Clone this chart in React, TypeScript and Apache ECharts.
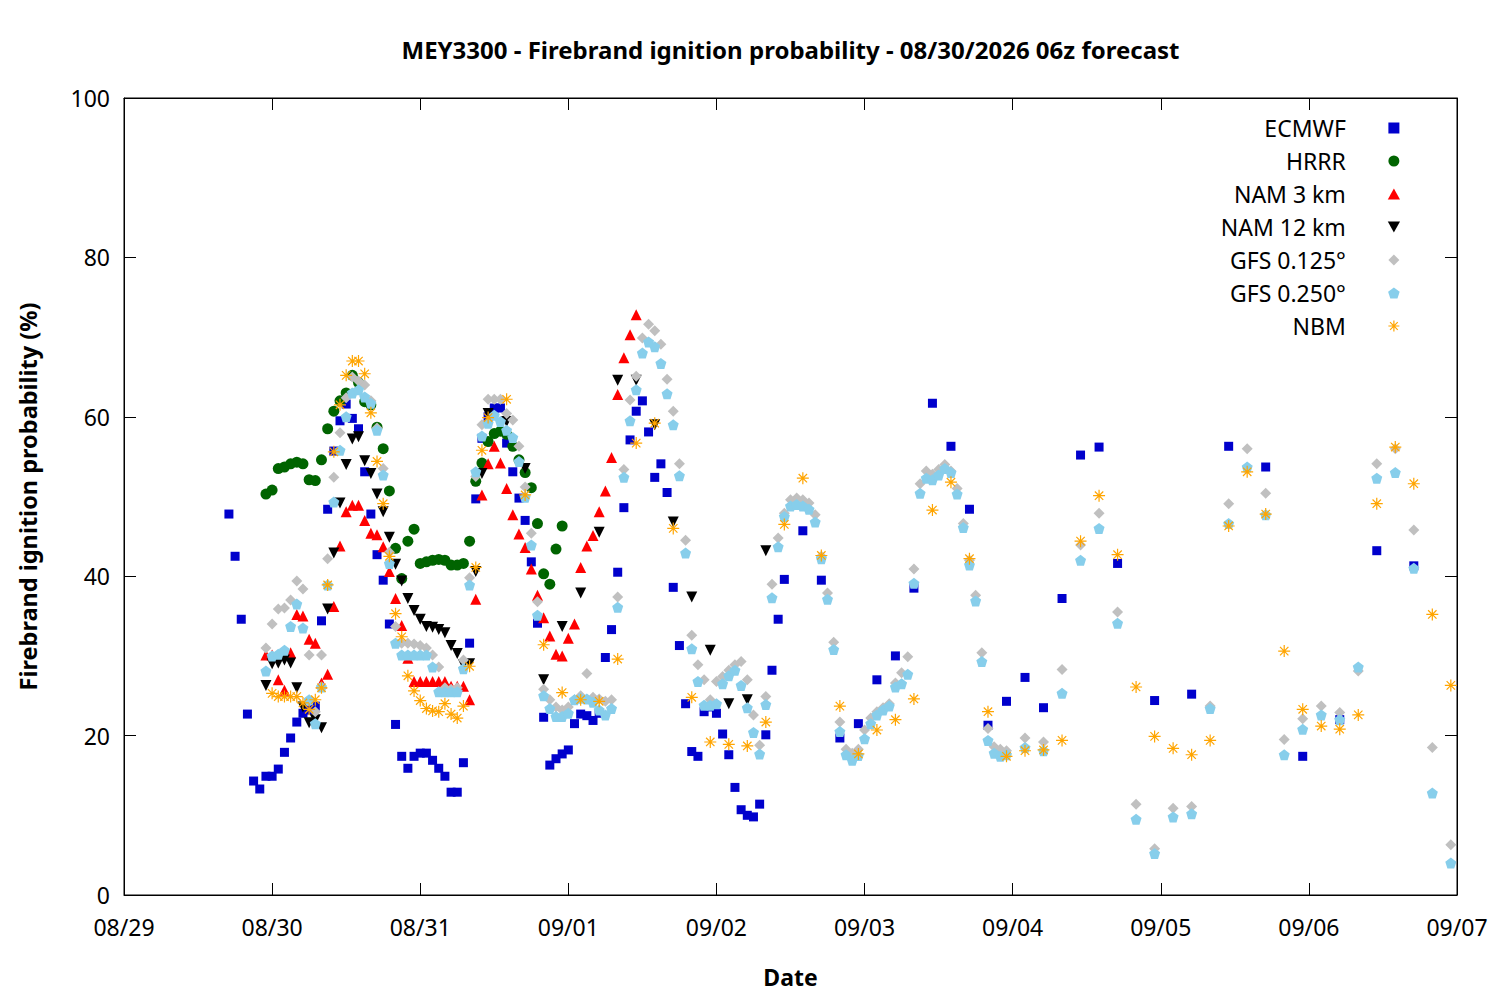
import React, { useEffect, useRef } from "react";
import * as echarts from "echarts";

// ---- tick labels ----
const dateLabels = ["08/29", "08/30", "08/31", "09/01", "09/02", "09/03", "09/04", "09/05", "09/06", "09/07"];

// ---- series values (hours are counted from 08/29 00h; each block = start hour, step, values) ----
const ecmwfHourly = [
  47.8, 42.5, 34.6, 22.7, 14.3, 13.3, 14.9, 14.9, 15.8, 17.9,
  19.7, 21.7, 22.8, 23.2, 23.7, 34.4, 48.4, 55.7, 59.5, 61.6,
  59.8, 58.5, 53.1, 47.8, 42.7, 39.5, 34.0, 21.4, 17.4, 15.9,
  17.4, 17.8, 17.8, 16.9, 15.9, 14.9, 12.9, 12.9, 16.6, 31.6,
  49.7, 57.3, 60.0, 61.1, 61.1, 56.7, 53.1, 49.8, 47.0, 41.8,
  34.1, 22.3, 16.3, 17.1, 17.7, 18.2, 21.5, 22.7, 22.5, 21.9,
  22.8, 29.8, 33.3, 40.5, 48.6, 57.1, 60.7, 62.0, 58.1, 52.4,
  54.1, 50.5, 38.6, 31.3, 24.0, 18.0, 17.4, 23.0, 23.6, 22.8,
  20.2, 17.6, 13.5, 10.7, 10.0, 9.8, 11.4, 20.1, 28.2, 34.6,
  39.6,
];
const ecmwf3h = [45.7, 39.5, 19.7, 21.5, 27.0, 30.0, 38.5, 61.7, 56.3, 48.4, 21.3, 24.3, 27.3, 23.5, 37.2, 55.2, 56.2, 41.6];
const ecmwf6h = [24.4, 25.2, 56.3, 53.7, 17.4, 22.0, 43.2, 41.3];

const hrrrHourly = [
  50.3, 50.8, 53.5, 53.7, 54.1, 54.3, 54.1, 52.1, 52.0, 54.6,
  58.5, 60.7, 62.0, 63.0, 65.2, 64.3, 61.9, 61.5, 58.7, 56.0,
  50.7, 43.5, 39.7, 44.4, 45.9, 41.6, 41.8, 42.0, 42.1, 42.0,
  41.4, 41.4, 41.6, 44.4, 51.9, 54.2, 56.9, 57.9, 58.2, 57.8,
  56.3, 54.6, 53.0, 51.1, 46.6, 40.3, 39.0, 43.4, 46.3,
];

const nam3Hourly = [
  30.1, 30.1, 27.0, 25.7, 30.4, 35.2, 35.0, 32.1, 31.6, 26.6,
  27.7, 36.2, 43.8, 48.1, 48.9, 48.9, 47.0, 45.4, 45.2, 43.7,
  40.6, 37.2, 33.8, 29.7, 26.8, 26.8, 26.8, 26.8, 26.8, 26.8,
  26.2, 26.2, 26.2, 24.5, 37.1, 50.2, 54.1, 56.3, 54.2, 51.0,
  47.7, 45.3, 43.6, 40.9, 37.6, 34.8, 32.5, 30.2, 30.0, 32.2,
  34.0, 41.1, 43.8, 45.1, 48.1, 50.7, 54.9, 62.8, 67.4, 70.3,
  72.8,
];

const nam12Hourly = [
  26.3, 29.0, 29.1, 29.5, 29.1, 26.0, 23.6, 21.6, 22.0, 21.0,
  35.9, 42.9, 49.2, 54.0, 57.2, 57.5, 54.5, 52.9, 50.3, 48.1,
  44.9, 41.5, 39.4, 37.2, 35.7, 34.6, 33.7, 33.6, 33.3, 32.9,
  31.3, 30.3, 28.9, 29.0, 40.6, 52.9, 60.4,
];
const nam12_3h = [59.4, 53.5, 27.0, 33.7, 37.9, 45.5, 64.6, 64.6, 59.0, 46.8, 37.4, 30.7, 24.0, 24.5, 43.2];

const gfs125Hourly = [
  31.0, 34.0, 35.9, 36.0, 37.0, 39.4, 38.4, 30.1, 23.0, 30.1,
  42.2, 52.4, 58.0, 62.4, 65.0, 64.5, 64.0, 62.0, 58.6, 53.5,
  43.0, 33.7, 31.6, 31.6, 31.5, 31.3, 31.0, 30.1, 28.6, 26.0,
  25.8, 26.0, 29.5, 39.8, 52.5, 59.0, 62.2, 62.2, 62.2, 60.4,
  59.6, 56.3, 51.2, 45.4, 36.8, 25.8, 24.5, 23.6, 23.2, 23.6,
  24.5, 25.0, 27.8, 24.8, 24.6, 24.3, 24.5, 37.4, 53.4, 62.1,
  65.1, 69.9, 71.6, 70.8, 69.1, 64.7, 60.7, 54.1, 44.5, 32.6,
  28.9, 27.0, 24.5, 26.8, 27.4, 28.2, 28.9, 29.3, 27.0, 22.6,
  18.8, 24.9, 39.0, 44.8, 47.9, 49.6, 49.8, 49.6, 49.2, 47.7,
  42.5, 37.9, 31.7, 21.7, 18.3, 17.8, 18.3, 20.7, 22.2, 23.0,
  23.5, 24.0, 26.6, 27.9, 29.9, 40.9, 51.6, 53.2, 52.8, 53.4,
  54.0, 53.2, 51.0, 46.6, 42.0, 37.6, 30.4, 20.9, 18.6, 18.3,
  18.1,
];
const gfs125_3h = [19.7, 19.2, 28.3, 43.9, 47.9, 35.5, 11.4, 5.8, 10.9, 11.1, 23.7, 49.1, 56.0, 50.4, 19.5, 22.1, 23.7, 22.9, 28.1, 54.1, 56.0, 45.8, 18.5, 6.3];

const gfs250Hourly = [
  28.1, 30.0, 30.2, 30.7, 33.7, 36.5, 33.5, 24.5, 21.5, 26.1,
  38.9, 49.3, 55.8, 60.0, 63.0, 63.4, 62.5, 61.7, 58.3, 52.7,
  41.6, 31.6, 30.1, 30.1, 30.1, 30.1, 30.1, 28.6, 25.5, 25.5,
  25.5, 25.5, 28.4, 38.9, 53.1, 57.6, 59.2, 60.2, 59.4, 58.3,
  57.4, 54.4, 49.9, 43.9, 35.1, 25.0, 23.4, 22.4, 22.4, 22.8,
  24.5, 24.7, 24.6, 24.2, 23.2, 22.6, 23.4, 36.1, 52.4, 59.5,
  63.4, 68.0, 69.4, 68.8, 66.7, 62.9, 59.0, 52.6, 42.9, 30.9,
  26.8, 23.8, 23.8, 24.0, 26.5, 27.5, 28.2, 26.3, 23.5, 20.4,
  17.7, 23.9, 37.3, 43.7, 47.5, 48.8, 49.0, 48.8, 48.4, 46.8,
  42.2, 37.1, 30.8, 20.5, 17.6, 16.9, 17.5, 19.6, 21.5, 22.6,
  23.2, 23.7, 26.1, 26.5, 27.7, 39.1, 50.4, 52.3, 52.1, 52.7,
  53.5, 53.0, 50.3, 46.1, 41.4, 36.9, 29.3, 19.4, 17.8, 17.4,
  17.6,
];
const gfs250_3h = [18.5, 18.1, 25.3, 42.0, 46.0, 34.1, 9.5, 5.2, 9.8, 10.2, 23.4, 46.6, 53.7, 47.7, 17.6, 20.8, 22.6, 22.0, 28.6, 52.3, 53.0, 41.0, 12.8, 4.0];

const nbmHourly = [
  25.3, 24.9, 24.9, 24.9, 24.9, 24.1, 23.3, 24.5, 26.0, 38.9,
  55.6, 61.5, 65.2, 67.0, 67.0, 65.4, 60.5, 54.4, 49.1, 42.5,
  35.3, 32.4, 27.5, 25.6, 24.4, 23.4, 23.1, 23.0, 24.0, 22.7,
  22.2, 23.7, 28.7, 41.1, 55.8, 59.9,
];
const nbm3h = [
  62.2, 50.2, 31.4, 25.4, 24.5, 24.3, 29.6, 56.7, 59.2, 46.0,
  24.8, 19.2, 18.9, 18.7, 21.7, 46.5, 52.3, 42.6, 23.7, 17.7,
  20.7, 22.0, 24.6, 48.3, 51.8, 42.2, 23.0, 17.4, 18.1, 18.2,
  19.4, 44.4, 50.1, 42.7, 26.1, 19.9, 18.4, 17.6, 19.4, 46.3,
  53.1, 47.8, 30.6, 23.3, 21.2, 20.8, 22.6, 49.1, 56.2, 51.6,
  35.2, 26.3,
];

// pair each value with its forecast hour
const seg = (start: number, step: number, vals: number[]) => vals.map((v, i) => [start + i * step, v]);

const FONT = '"Noto Sans", "Open Sans", sans-serif';

const SYM = {
  square: "path://M-5,-5 L5,-5 L5,5 L-5,5 Z",
  circle: "path://M0,-10 A10,10 0 1,1 0,10 A10,10 0 1,1 0,-10 Z",
  triUp: "path://M0,-10 L10,8 L-10,8 Z",
  triDown: "path://M0,10 L10,-8 L-10,-8 Z",
  diamond: "path://M0,-10 L10,0 L0,10 L-10,0 Z",
  pentagon: "path://M0,-10 L9.51,-3.09 L5.88,8.09 L-5.88,8.09 L-9.51,-3.09 Z",
  star: "path://M10,0 L10,20 M0,10 L20,10 M3,3 L17,17 M3,17 L17,3",
};

export default function App() {
  const ref = useRef<HTMLDivElement>(null);
  useEffect(() => {
    if (!ref.current) return;
    const chart = echarts.init(ref.current, null, { renderer: "svg" });

    const defs = [
      { name: "ECMWF", sym: SYM.square, size: 9, color: "#0000cc", data: [...seg(17, 1, ecmwfHourly), ...seg(110, 3, ecmwf3h), ...seg(167, 6, ecmwf6h)] },
      { name: "HRRR", sym: SYM.circle, size: 11, color: "#006400", data: seg(23, 1, hrrrHourly) },
      { name: "NAM 3 km", sym: SYM.triUp, size: 11, color: "#ff0000", data: seg(23, 1, nam3Hourly) },
      { name: "NAM 12 km", sym: SYM.triDown, size: 11, color: "#000000", data: [...seg(23, 1, nam12Hourly), ...seg(62, 3, nam12_3h)] },
      { name: "GFS 0.125°", sym: SYM.diamond, size: 11, color: "#c0c0c0", data: [...seg(23, 1, gfs125Hourly), ...seg(146, 3, gfs125_3h)] },
      { name: "GFS 0.250°", sym: SYM.pentagon, size: 11, color: "#87ceeb", data: [...seg(23, 1, gfs250Hourly), ...seg(146, 3, gfs250_3h)] },
      { name: "NBM", sym: SYM.star, size: 12, color: "#ffa500", data: [...seg(24, 1, nbmHourly), ...seg(62, 3, nbm3h)] },
    ];

    const series = defs.map((d) => ({
      name: d.name,
      type: "scatter",
      symbol: d.sym,
      symbolSize: d.size,
      data: d.data,
      itemStyle:
        d.name === "NBM"
          ? { color: "rgba(0,0,0,0)", borderColor: d.color, borderWidth: 1.2, opacity: 1 }
          : { color: d.color, opacity: 1 },
      emphasis: { disabled: true },
    }));

    const axisLine = { show: true, onZero: false, lineStyle: { color: "#000", width: 1 } };
    const axisTick = { show: true, inside: true, length: 12, lineStyle: { color: "#000", width: 1 } };

    chart.setOption({
      animation: false,
      backgroundColor: "#fff",
      textStyle: { fontFamily: FONT },
      graphic: [
        {
          type: "text",
          x: 790.5,
          y: 49,
          style: {
            text: "MEY3300 - Firebrand ignition probability - 08/30/2026 06z forecast",
            textAlign: "center",
            textVerticalAlign: "middle",
            fontSize: 24,
            fontWeight: "bold",
            fontFamily: FONT,
            fill: "#000",
          },
        },
      ],
      grid: { left: 124, right: 43, top: 98, bottom: 105, show: true, borderColor: "#000", borderWidth: 1 },
      legend: {
        orient: "vertical",
        right: 95,
        top: 111,
        align: "right",
        itemWidth: 86,
        itemHeight: 11,
        itemGap: 9,
        selectedMode: false,
        textStyle: { fontSize: 23, fontFamily: FONT, color: "#000", lineHeight: 24 },
        data: defs.map((d) => ({
          name: d.name,
          icon: d.sym,
          itemStyle:
            d.name === "NBM"
              ? { color: "rgba(0,0,0,0)", borderColor: d.color, borderWidth: 1.2 }
              : { color: d.color, borderWidth: 0 },
        })),
      },
      xAxis: [
        {
          type: "value",
          min: 0,
          max: 216,
          interval: 24,
          position: "bottom",
          axisLine,
          axisTick,
          splitLine: { show: false },
          axisLabel: {
            formatter: (v: number) => dateLabels[Math.round(v / 24)] ?? "",
            fontSize: 23,
            color: "#000",
            margin: 20,
            fontFamily: FONT,
          },
          name: "Date",
          nameLocation: "middle",
          nameGap: 70,
          nameTextStyle: { fontSize: 23, fontWeight: "bold", color: "#000", fontFamily: FONT },
        },
        {
          type: "value",
          min: 0,
          max: 216,
          interval: 24,
          position: "top",
          axisLine,
          axisTick,
          splitLine: { show: false },
          axisLabel: { show: false },
        },
      ],
      yAxis: [
        {
          type: "value",
          min: 0,
          max: 100,
          interval: 20,
          position: "left",
          axisLine,
          axisTick,
          splitLine: { show: false },
          axisLabel: { fontSize: 23, color: "#000", margin: 14, fontFamily: FONT },
          name: "Firebrand ignition probability (%)",
          nameLocation: "middle",
          nameGap: 84,
          nameRotate: 90,
          nameTextStyle: { fontSize: 23.5, fontWeight: "bold", color: "#000", fontFamily: FONT },
        },
        {
          type: "value",
          min: 0,
          max: 100,
          interval: 20,
          position: "right",
          axisLine,
          axisTick,
          splitLine: { show: false },
          axisLabel: { show: false },
        },
      ],
      series,
    });
    return () => chart.dispose();
  }, []);
  return <div ref={ref} style={{ position: "fixed", left: 0, top: 0, width: 1500, height: 1000, background: "#fff" }} />;
}
